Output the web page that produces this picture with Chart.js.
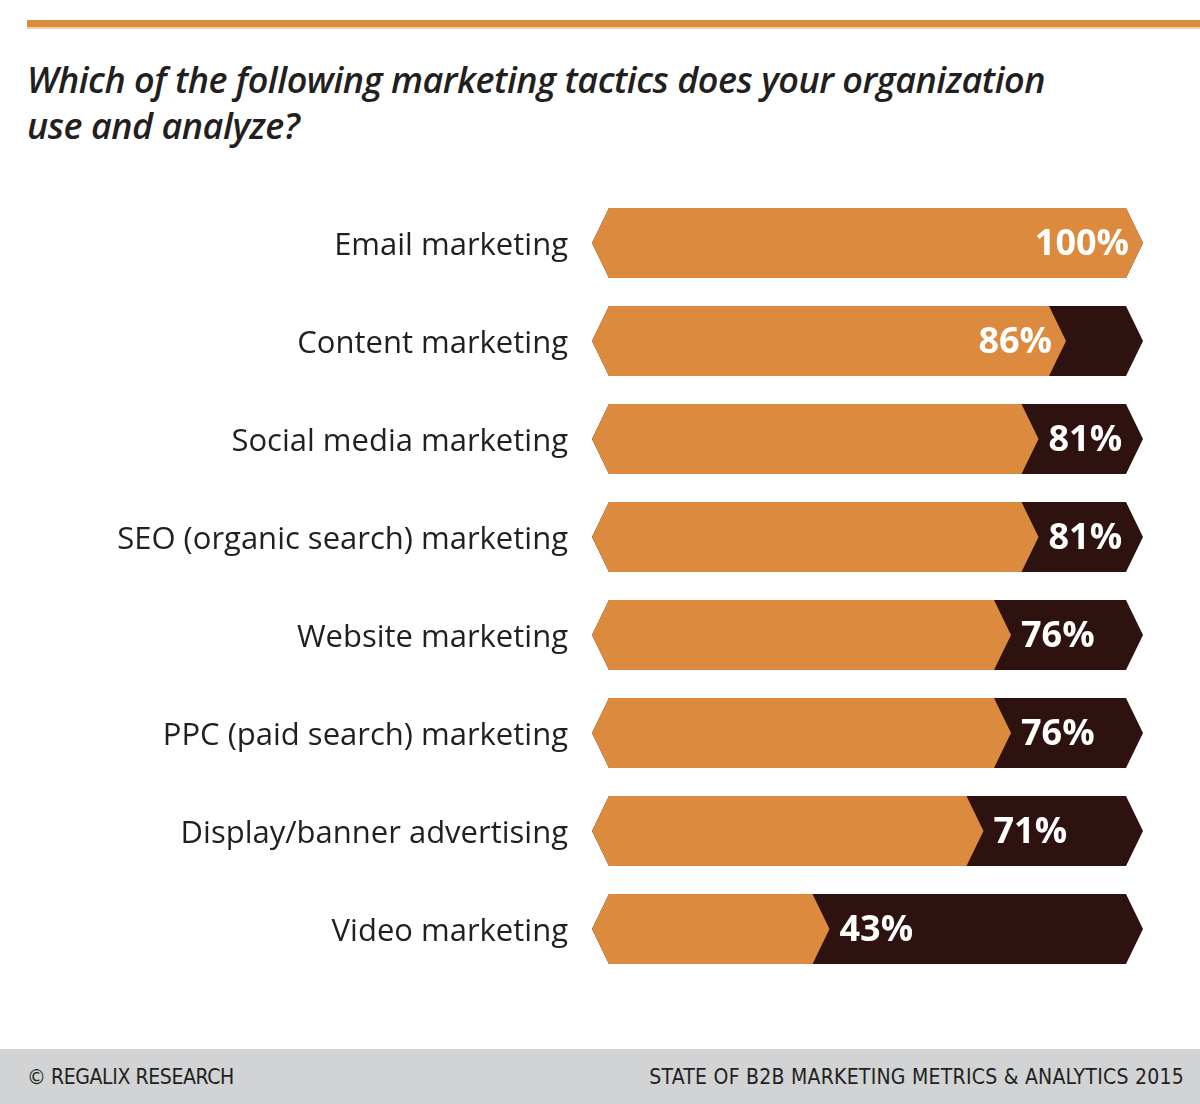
<!DOCTYPE html>
<html>
<head>
<meta charset="utf-8">
<script src="https://cdn.jsdelivr.net/npm/chart.js@4.4.1/dist/chart.umd.min.js"></script>
<style>
  html, body { margin: 0; padding: 0; background: #fff; }
  #wrap { position: relative; width: 1200px; height: 1104px; overflow: hidden; }
  #chart { position: absolute; left: 0; top: 0; }
  .topline { position: absolute; left: 27px; top: 20px; width: 1173px; height: 7px; background: #db8a3e; border-bottom: 2px solid #f3cfa8; }
  .title { position: absolute; left: 27px; top: 57px; font-family: 'Open Sans', sans-serif; font-style: italic; font-weight: 600;
           font-size: 36px; line-height: 46px; color: #231f20; letter-spacing: -0.5px; }
  .footer { position: absolute; left: 0; top: 1049px; width: 1200px; height: 55px; background: #d1d3d4;
            font-family: 'Liberation Sans Narrow', 'DejaVu Sans Condensed', 'Open Sans', sans-serif; font-size: 21px; color: #231f20; }
  .footer .l { position: absolute; left: 27px; top: 16px; letter-spacing: -0.4px; }
  .footer .r { position: absolute; right: 16px; top: 16px; letter-spacing: 0.25px; }
</style>
</head>
<body>
<div id="wrap">
  <div class="topline"></div>
  <div class="title">Which of the following marketing tactics does your organization<br>use and analyze?</div>
  <canvas id="chart" width="1200" height="1104"></canvas>
  <div class="footer"><span class="l">© REGALIX RESEARCH</span><span class="r">STATE OF B2B MARKETING METRICS &amp; ANALYTICS 2015</span></div>
</div>
<script>
// ==================== DATA ====================
const categories = [
    'Email marketing',
    'Content marketing',
    'Social media marketing',
    'SEO (organic search) marketing',
    'Website marketing',
    'PPC (paid search) marketing',
    'Display/banner advertising',
    'Video marketing'
];
const usePercent = [100, 86, 81, 81, 76, 76, 71, 43];
const remainder = usePercent.map(v => 100 - v);

const ORANGE = '#db8a3e';
const DARK = '#2e1210';
const TIP = 17;      // chevron depth
const LEFT_INSET = 16; // left tip sits a little right of zero

// ==================== CHEVRON DRAW ====================
function chevron(ctx, left, right, top, bottom, color) {
    const mid = (top + bottom) / 2;
    ctx.beginPath();
    ctx.moveTo(left, mid);
    ctx.lineTo(left + TIP, top);
    ctx.lineTo(right, top);
    ctx.lineTo(right + TIP, mid);
    ctx.lineTo(right, bottom);
    ctx.lineTo(left + TIP, bottom);
    ctx.closePath();
    ctx.fillStyle = color;
    ctx.fill();
}

const chevronBars = {
    id: 'chevronBars',
    afterDatasetsDraw(chart) {
        const ctx = chart.ctx;
        const useMeta = chart.getDatasetMeta(0);
        const xScale = chart.scales.x;
        const zeroX = xScale.getPixelForValue(0) + LEFT_INSET;
        const fullX = xScale.getPixelForValue(100);
        ctx.save();
        useMeta.data.forEach((bar, i) => {
            const half = bar.height / 2;
            const top = bar.y - half, bottom = bar.y + half;
            chevron(ctx, zeroX, fullX, top, bottom, DARK);
            chevron(ctx, zeroX, bar.x, top, bottom, ORANGE);

            // value label
            const v = usePercent[i];
            ctx.font = "bold 36px 'Open Sans', sans-serif";
            ctx.fillStyle = '#ffffff';
            ctx.textBaseline = 'middle';
            if (v > 84) {
                ctx.textAlign = 'right';
                ctx.fillText(v + '%', bar.x + 3, bar.y + 2);
            } else {
                ctx.textAlign = 'left';
                ctx.fillText(v + '%', bar.x + 27, bar.y + 2);
            }
        });
        ctx.restore();
    }
};

// ==================== CHART ====================
new Chart(document.getElementById('chart').getContext('2d'), {
    type: 'bar',
    data: {
        labels: categories,
        datasets: [
            { label: 'Use and analyze', data: usePercent, backgroundColor: 'rgba(0,0,0,0)' },
            { label: 'Other', data: remainder, backgroundColor: 'rgba(0,0,0,0)' }
        ]
    },
    options: {
        responsive: false,
        animation: false,
        indexAxis: 'y',
        barPercentage: 0.714,
        categoryPercentage: 1,
        layout: { padding: { top: 194, bottom: 126, left: 0, right: 74 } },
        plugins: { legend: { display: false }, tooltip: { enabled: false }, title: { display: false } },
        scales: {
            x: { stacked: true, min: 0, max: 100, display: false },
            y: {
                stacked: true,
                grid: { display: false },
                border: { display: false },
                ticks: { color: '#231f20', padding: 0, labelOffset: 3, font: { family: "'Open Sans', sans-serif", size: 31 } },
                afterFit(axis) { axis.width = 576; }
            }
        }
    },
    plugins: [chevronBars]
});
</script>
</body>
</html>
